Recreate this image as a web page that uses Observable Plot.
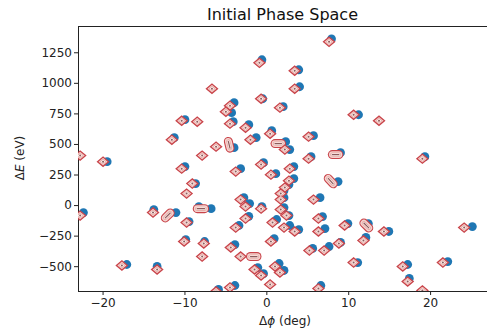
<!DOCTYPE html>
<html>
<head>
<meta charset="utf-8">
<script src="https://cdn.jsdelivr.net/npm/d3@7"></script>
<script src="https://cdn.jsdelivr.net/npm/@observablehq/plot@0.6"></script>
<style>
  body { margin: 0; background: #fff; font-family: "DejaVu Sans", sans-serif; }
  #title { height: 25px; width: 409px; padding-left: 78px; text-align: center;
           font-size: 16px; line-height: 30px; color: #111; white-space: nowrap; }
</style>
</head>
<body>
<div id="title">Initial Phase Space</div>
<div id="chart"></div>
<script>
// Particle positions: phase offset (deg) and energy offset (eV)
const dotPhi = [7.9, -0.6, 3.9, 4.0, -0.5, -4.0, 2.0, -4.3, -10.0, -4.1, -2.2, -11.3, -4.0, -19.5, -10.0, -3.2,
  -8.7, -2.8, -6.8, -8.3, -13.8, -11.1, -22.4, -9.5, -3.4, -9.9, -7.6, -3.9, -17.1, -13.4, -5.9, -3.9,
  11.2, 0.6, -1.3, 2.3, 2.8, 5.7, 9.0, 5.4, 19.3, -0.4, 3.3, 1.1, 8.7, 3.3, 2.7, 2.1, 2.1, 6.5, -0.6,
  2.1, 2.7, 6.8, 1.2, 9.9, 12.4, 25.1, 2.8, 3.9, 7.1, 14.9, 0.9, 9.0, 12.1, 5.6, 7.6, 11.1, 17.2, 22.1,
  1.5, -1.1, 2.1, -0.4, 17.4, 6.6, -2.1, -2.2];
const dotE = [1364, 1193, 1111, 972, 874, 842, 809, 760, 703, 686, 662, 556, 474, 359, 319, 302,
  180, 65, -25, -8, -33, -57, -57, -131, -163, -278, -294, -319, -482, -498, -686, -654,
  743, 613, 556, 523, 458, 572, 433, 400, 400, 351, 319, 261, 196, 221, 172, 123, 65, 65, -8,
  -16, -82, -90, -114, -147, -147, -172, -163, -196, -188, -212, -270, -302, -261, -351, -335, -466, -482, -458,
  -474, -507, -531, -556, -596, -654, 16, -88];

// Contour centres of the density estimate
const ringPhi = [7.6, -0.9, 3.4, -6.7, 3.4, -0.7, -4.5, 1.6, -5.0, -10.4, -8.5, -4.5, -2.6, 10.6, 13.7, 0.4,
  -2.0, -11.6, -6.2, 2.2, 5.1, -7.9, -22.8, -20.0, 5.1, 19.0, -0.7, -10.4, -3.8, 2.8, 0.5, 2.7,
  -9.1, 2.2, -9.8, 1.7, -3.2, 1.7, 5.7, -2.6, -0.7, 1.7, -13.9, -22.8, 2.4, -2.6, 6.3, -9.8,
  0.7, 9.5, 24.1, -3.8, 2.1, 3.4, 6.3, 14.3, 0.5, -10.1, 8.8, 11.8, -7.7, -4.4, 5.2, 7.0,
  -7.9, 10.6, 16.6, 21.5, 1.0, -1.5, 1.6, -0.7, -17.7, -13.4, 17.2, 0.4, 6.3, 19.0, -6.2, -4.5, -3.2];
const ringE = [1340, 1168, 1103, 956, 956, 874, 817, 801, 768, 694, 686, 670, 637, 743, 694, 588,
  539, 539, 482, 458, 564, 409, 409, 359, 384, 384, 335, 302, 278, 302, 253, 204,
  180, 147, 98, 98, 49, 49, 49, -8, -25, -33, -57, -82, -82, -106, -106, -139,
  -139, -163, -180, -180, -180, -212, -212, -212, -294, -294, -310, -286, -310, -343, -368, -368,
  -417, -466, -498, -466, -498, -523, -547, -572, -490, -523, -621, -645, -678, -694, -703, -670, -417];

// Elongated contours where neighbouring particles merge (start / end)
const streakPhi1 = [-8.5, -12.4, -4.7, 1.0, 8.0, 7.5, 11.85, -2.0];
const streakE1   = [-25, -101, 525, 507, 417, 222, -143, -417];
const streakPhi2 = [-7.6, -11.8, -4.5, 1.8, 8.8, 8.1, 12.45, -1.2];
const streakE2   = [-25, -61, 470, 507, 417, 178, -183, -417];

const xTicks = [-20, -10, 0, 10, 20];
const yTicks = [-500, -250, 0, 250, 500, 750, 1000, 1250];
const xDomain = [-23, 26.95];
const yDomain = [-703, 1465];

const dots = dotPhi.map((phi, i) => ({phi, dE: dotE[i]}));
const rings = ringPhi.map((phi, i) => ({phi, dE: ringE[i]}));
const streaks = streakPhi1.map((p, i) => ({p1: p, e1: streakE1[i], p2: streakPhi2[i], e2: streakE2[i]}));

const fmt = d => (d < 0 ? "\u2212" + Math.abs(d) : String(d));

// a slightly flattened lozenge for the contour outlines
const lozenge = {
  draw(ctx, size) {
    const r = Math.sqrt(size / Math.PI);
    ctx.moveTo(-1.2 * r, 0);
    ctx.lineTo(0, -r);
    ctx.lineTo(1.2 * r, 0);
    ctx.lineTo(0, r);
    ctx.closePath();
  }
};

const red = "#c9444a", pink = "#f3d3cf", rose = "#e8a39e", pale = "#fbeeec", core = "#8c5b5b";
const seg = {x1: "p1", y1: "e1", x2: "p2", y2: "e2", strokeLinecap: "round", clip: true};

const svg = Plot.plot({
  width: 487,
  height: 305,
  marginLeft: 78,
  marginRight: 0,
  marginTop: 1,
  marginBottom: 39,
  style: {fontFamily: "DejaVu Sans", fontSize: "12px", color: "#222", background: "#fff", overflow: "visible"},
  x: {domain: xDomain, ticks: xTicks, tickFormat: fmt, tickSize: 4, tickPadding: 3, label: null, line: true},
  y: {domain: yDomain, ticks: yTicks, tickFormat: fmt, tickSize: 4, tickPadding: 2.5, label: null, line: true},
  marks: [
    Plot.ruleY([yDomain[1]], {stroke: "#222"}),
    Plot.dot(dots, {x: "phi", y: "dE", r: 4.4, fill: "#1f77b4", clip: true}),
    Plot.link(streaks, {...seg, stroke: red, strokeWidth: 9}),
    Plot.link(streaks, {...seg, stroke: pink, strokeWidth: 6.8}),
    Plot.link(streaks, {...seg, stroke: rose, strokeWidth: 4}),
    Plot.link(streaks, {...seg, stroke: pale, strokeWidth: 2.6}),
    Plot.link(streaks, {...seg, stroke: core, strokeWidth: 1.2}),
    Plot.dot(rings, {x: "phi", y: "dE", r: 4.6, symbol: lozenge, fill: pink, stroke: red, strokeWidth: 1.3, clip: true}),
    Plot.dot(rings, {x: "phi", y: "dE", r: 2.5, symbol: lozenge, fill: pale, stroke: rose, strokeWidth: 0.8, clip: true}),
    Plot.dot(rings, {x: "phi", y: "dE", r: 1, fill: core, clip: true})
  ]
});

const s = d3.select(svg);
// axis titles
const xl = s.append("text")
  .attr("x", 285).attr("y", 300)
  .attr("text-anchor", "middle")
  .attr("font-family", "DejaVu Sans").attr("font-size", 12).attr("fill", "#222");
xl.append("tspan").text("\u0394");
xl.append("tspan").attr("font-style", "italic").text("\u03d5");
xl.append("tspan").text(" (deg)");

const yl = s.append("text")
  .attr("transform", "translate(20,133) rotate(-90)")
  .attr("text-anchor", "middle").attr("dy", "0.35em")
  .attr("font-family", "DejaVu Sans").attr("font-size", 12).attr("fill", "#222");
yl.append("tspan").text("\u0394");
yl.append("tspan").attr("font-style", "italic").text("E");
yl.append("tspan").text(" (eV)");

document.getElementById("chart").appendChild(svg);
</script>
</body>
</html>
